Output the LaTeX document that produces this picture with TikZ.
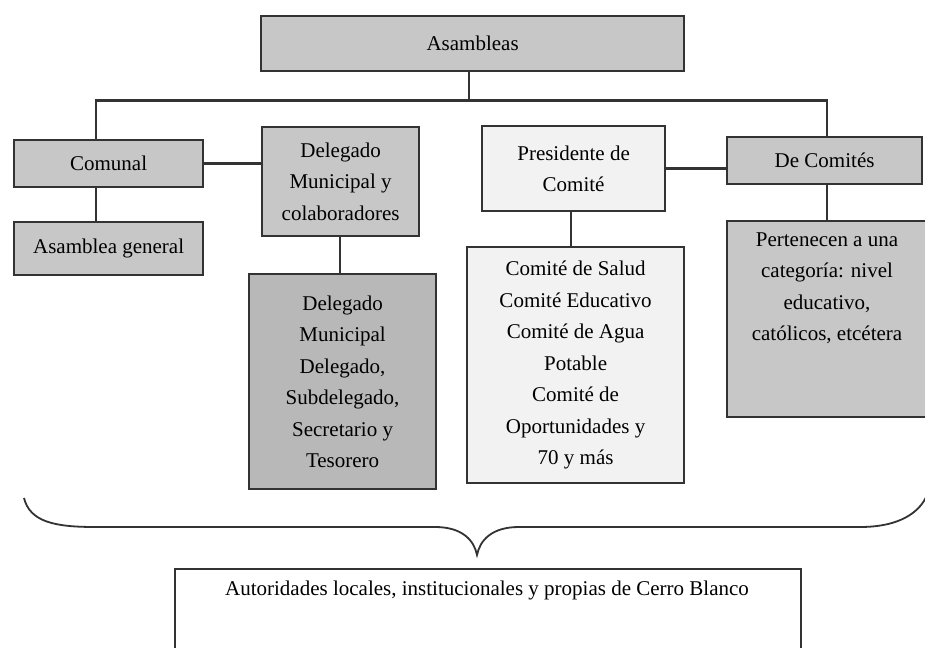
\documentclass[tikz,border=0pt]{standalone}
\usepackage{fontspec}
\setmainfont{Liberation Serif}
\begin{document}
\begin{tikzpicture}[x=1pt,y=-1pt,
  every node/.style={font=\fontsize{21}{31.5}\selectfont, text=black},
  box/.style={draw=black!80, line width=2.2pt, align=center, inner sep=0pt, anchor=north west},
  dark/.style={box, fill=black!22},
  darker/.style={box, fill=black!28},
  light/.style={box, fill=black!5},
  plain/.style={box, fill=white},
  conn/.style={draw=black!80, line width=2.2pt}]
\useasboundingbox (0,0) rectangle (925,647);
\fill[white] (0,0) rectangle (925,647);
% boxes
\node[dark, minimum width=423pt, minimum height=55pt] (asam) at (260,15) {Asambleas};
\node[dark, minimum width=189pt, minimum height=47pt] (comunal) at (13,139) {Comunal};
\node[dark, minimum width=157pt, minimum height=109pt] (deleg) at (261,126) {Delegado\\Municipal y\\colaboradores};
\node[light, minimum width=183pt, minimum height=85pt] (pres) at (481,125) {Presidente de\\Comité};
\node[dark, minimum width=195pt, minimum height=47pt] (decom) at (726,136) {De Comités};
\node[dark, minimum width=189pt, minimum height=53pt] (asgen) at (13,221) {Asamblea general};
\node[darker, minimum width=187pt, minimum height=215pt] (deleg2) at (248,273) {Delegado\\Municipal\\Delegado,\\Subdelegado,\\Secretario y\\Tesorero};
\node[light, minimum width=217pt, minimum height=236pt] (comlist) at (466,246) {Comité de Salud\\Comité Educativo\\Comité de Agua\\Potable\\Comité de\\Oportunidades y\\70 y más};
\node[dark, minimum width=203pt, minimum height=196pt] (pert) at (726,220) {};
\node[anchor=north, align=center] (perttext) at (827,229) {Pertenecen a una\\categoría: nivel\\educativo,\\católicos, etcétera};
\node[plain, minimum width=626pt, minimum height=100pt] (bottom) at (174,568) {};
\node[anchor=north] (bottomtext) at (487,577) {Autoridades locales, institucionales y propias de Cerro Blanco};
% connectors
\coordinate (bus) at (469,100.5);
\coordinate (busL) at (96,100.5);
\coordinate (busR) at (827,100.5);
\draw[conn] (asam.south -| bus) -- (bus);
\draw[conn] (comunal.north -| busL) -- (busL) -- (busR) -- (decom.north -| busR);
\draw[conn] (comunal.east) -- (comunal.east -| deleg.west);
\draw[conn] (pres.east) -- (pres.east -| decom.west);
\draw[conn] (comunal.south -| busL) -- (asgen.north -| busL);
\draw[conn] (deleg.south -| 340,0) -- (deleg2.north -| 340,0);
\draw[conn] (pres.south -| 571,0) -- (comlist.north -| 571,0);
\draw[conn] (decom.south -| busR) -- (pert.north -| busR);
% brace
\coordinate (tip) at (477,555);
\draw[conn, line width=1.8pt] (24,498) .. controls (30,522) and (55,527) .. (95,527)
  -- (435,527) .. controls (462,527) and (474,540) .. (tip)
  .. controls (480,540) and (492,527) .. (519,527)
  -- (860,527) .. controls (900,527) and (920,512) .. (927,495);
\end{tikzpicture}
\end{document}
